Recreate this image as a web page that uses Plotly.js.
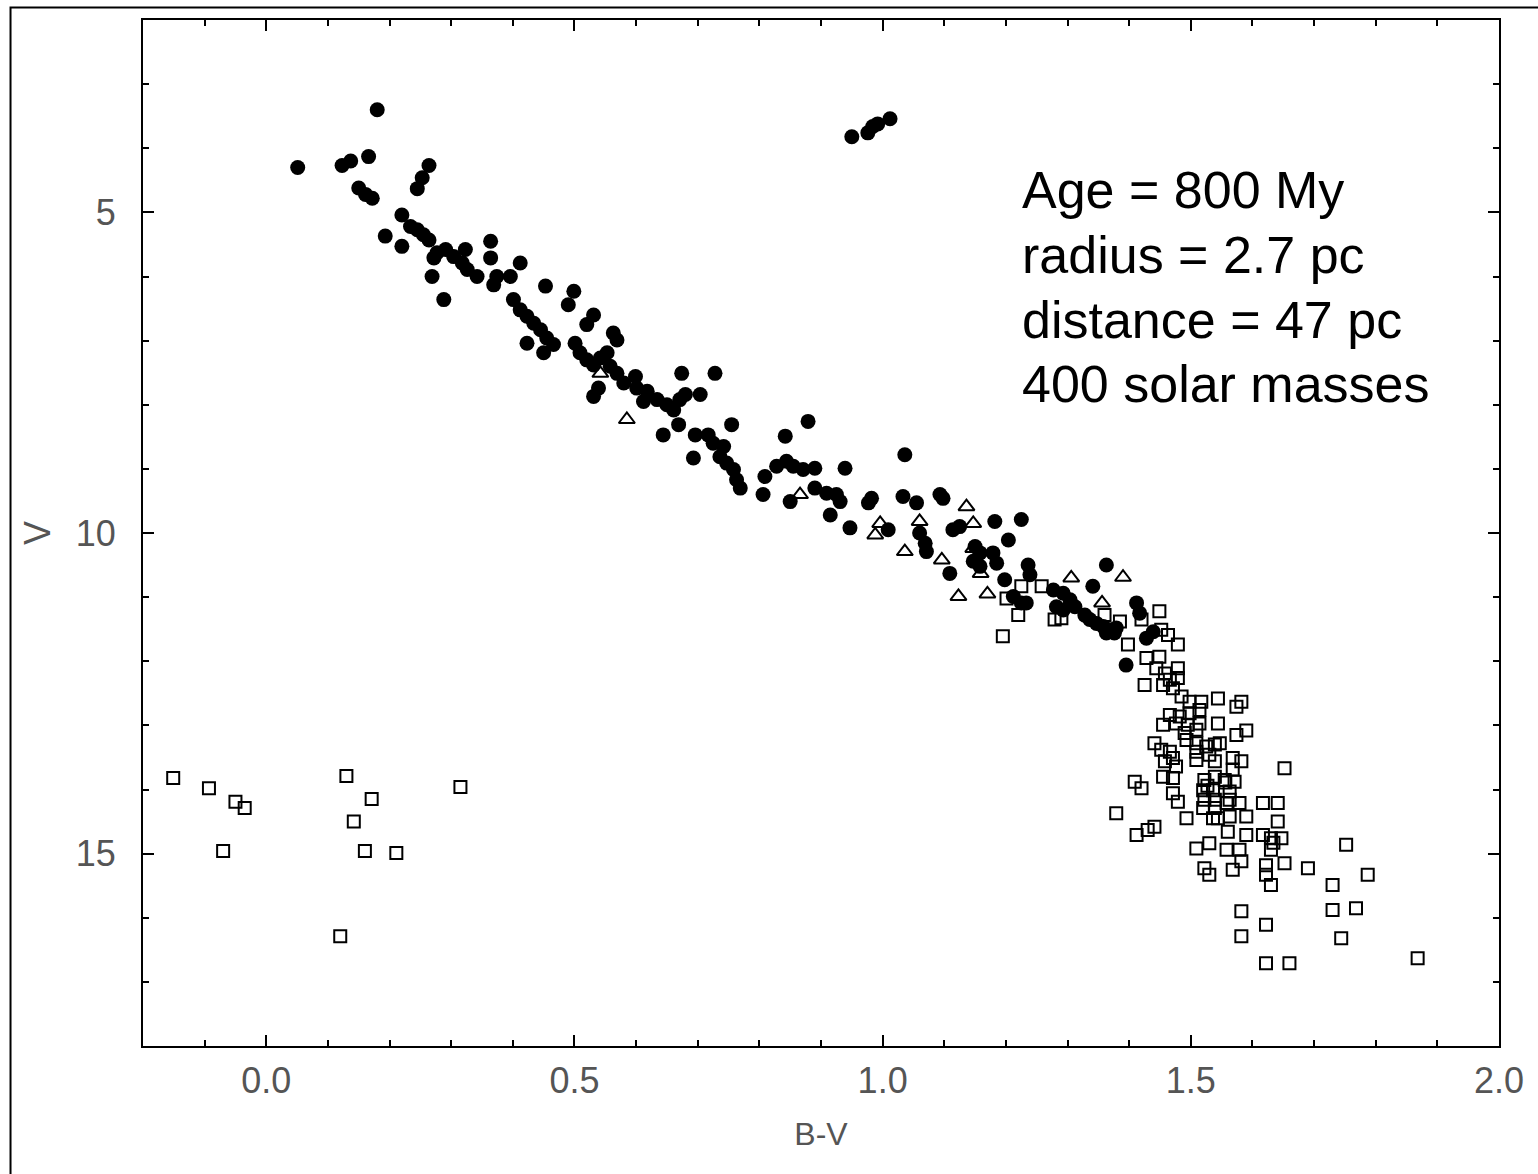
<!DOCTYPE html>
<html>
<head>
<meta charset="utf-8">
<script src="https://cdn.plot.ly/plotly-3.0.1.min.js"></script>
<style>
  html, body { margin: 0; padding: 0; background: #fff; }
  #chart { width: 1538px; height: 1174px; }
</style>
</head>
<body>
<div id="chart"></div>
<script>
// Filled circles (cluster members, bright main sequence + giants)
const circBV = [
  0.180, 0.051, 0.123, 0.137, 0.166, 0.264, 0.253, 0.245, 0.150, 0.161,
  0.172, 0.220, 0.193, 0.234, 0.245, 0.255, 0.264, 0.220, 0.277, 0.291,
  0.272, 0.269, 0.288, 0.304, 0.323, 0.318, 0.326, 0.342, 0.364, 0.364,
  0.374, 0.369, 0.396, 0.412, 0.453, 0.499, 0.401, 0.412, 0.423, 0.434,
  0.445, 0.455, 0.466, 0.423, 0.450,
  0.490, 0.531, 0.520, 0.563, 0.569, 0.501, 0.509, 0.520, 0.531, 0.542,
  0.553, 0.558, 0.569, 0.531, 0.539, 0.580, 0.599, 0.601, 0.618, 0.612,
  0.634, 0.650, 0.661, 0.671, 0.680, 0.704, 0.674, 0.728, 0.669, 0.644,
  0.696, 0.717, 0.725, 0.742, 0.755, 0.693, 0.736, 0.747, 0.758, 0.763,
  0.769,
  0.879, 0.842, 0.809, 0.828, 0.844, 0.855, 0.871, 0.890, 0.806, 0.850,
  0.890, 0.909, 0.925, 0.931, 0.915, 0.947, 0.939, 0.977, 0.982, 1.036,
  1.033, 1.055, 1.093, 1.098, 1.009, 1.060, 1.069, 1.071, 1.114, 1.125,
  1.109,
  1.182, 1.225, 1.204, 1.150, 1.158, 1.147, 1.158, 1.179, 1.185, 1.198,
  1.236, 1.239, 1.212, 1.225, 1.233, 1.277, 1.293, 1.304, 1.282, 1.293,
  1.312, 1.328, 1.363,
  1.341, 1.336, 1.347, 1.358, 1.368, 1.379, 1.363, 1.376, 1.412, 1.417,
  1.428, 1.439, 1.395,
  0.950, 0.976, 0.984, 0.992, 1.012
];
const circV = [
  3.40, 4.30, 4.27, 4.20, 4.13, 4.27, 4.46, 4.63, 4.62, 4.72,
  4.78, 5.04, 5.37, 5.22, 5.27, 5.35, 5.43, 5.53, 5.63, 5.58,
  5.71, 6.00, 6.36, 5.69, 5.58, 5.79, 5.89, 6.00, 5.45, 5.71,
  6.00, 6.13, 6.00, 5.79, 6.15, 6.23, 6.36, 6.52, 6.62, 6.73,
  6.83, 6.96, 7.06, 7.04, 7.19,
  6.44, 6.60, 6.75, 6.88, 6.99, 7.04, 7.19, 7.30, 7.38, 7.27,
  7.19, 7.40, 7.51, 7.87, 7.74, 7.66, 7.56, 7.74, 7.79, 7.95,
  7.92, 8.00, 8.08, 7.92, 7.84, 7.84, 7.51, 7.51, 8.31, 8.47,
  8.47, 8.47, 8.60, 8.65, 8.31, 8.83, 8.81, 8.91, 9.01, 9.17,
  9.30,
  8.26, 8.49, 9.12, 8.96, 8.88, 8.96, 9.01, 8.99, 9.40, 9.51,
  9.30, 9.38, 9.40, 9.51, 9.72, 9.92, 8.99, 9.53, 9.46, 8.78,
  9.43, 9.53, 9.40, 9.46, 9.95, 10.00, 10.16, 10.29, 9.95, 9.90,
  10.63,
  9.82, 9.79, 10.11, 10.21, 10.31, 10.44, 10.52, 10.31, 10.47, 10.73,
  10.50, 10.65, 10.99, 11.09, 11.09, 10.89, 10.94, 11.04, 11.15, 11.20,
  11.15, 11.28, 10.50,
  10.83, 11.35, 11.41, 11.46, 11.51, 11.48, 11.56, 11.56, 11.09, 11.25,
  11.64, 11.54, 12.06,
  3.82, 3.76, 3.66, 3.62, 3.54
];

// Open triangles
const triBV = [0.542, 0.585, 0.866, 0.988, 0.996, 1.036, 1.060, 1.096, 1.123,
  1.136, 1.147, 1.147, 1.159, 1.170, 1.306, 1.390, 1.356];
const triV = [7.51, 8.23, 9.40, 10.03, 9.85, 10.29, 9.82, 10.42, 10.99,
  9.59, 9.85, 10.24, 10.63, 10.95, 10.70, 10.69, 11.09];

// Open squares (faint stars, white dwarfs)
const sqBV = [
  -0.151, -0.093, -0.050, -0.035, -0.070, 0.130, 0.171, 0.142, 0.160, 0.211,
  0.315, 0.120,
  1.225, 1.258, 1.201, 1.220, 1.195, 1.279, 1.290,
  1.360, 1.385, 1.420, 1.449, 1.452, 1.463, 1.479, 1.398, 1.428, 1.449,
  1.425, 1.455, 1.479, 1.479, 1.471, 1.444, 1.458, 1.466, 1.485, 1.498,
  1.517, 1.466, 1.482, 1.498, 1.514, 1.455, 1.476, 1.495, 1.514, 1.490,
  1.509, 1.493, 1.544, 1.574, 1.582, 1.544, 1.574, 1.590, 1.441, 1.452,
  1.466, 1.509, 1.525, 1.539, 1.547, 1.509, 1.530, 1.458, 1.476, 1.471,
  1.509, 1.539, 1.568, 1.582, 1.652, 1.455, 1.471, 1.522, 1.539, 1.568,
  1.555, 1.571, 1.563, 1.409, 1.420, 1.471, 1.479, 1.520, 1.536, 1.522,
  1.539, 1.563, 1.579, 1.520, 1.539, 1.558, 1.617, 1.641, 1.379, 1.493,
  1.536, 1.544, 1.563, 1.590, 1.641,
  1.412, 1.430, 1.441, 1.509, 1.530, 1.558, 1.579, 1.582, 1.522, 1.530,
  1.568, 1.560, 1.590, 1.617, 1.630, 1.647, 1.630, 1.652, 1.622, 1.622,
  1.630, 1.690, 1.752, 1.787, 1.730, 1.730, 1.768, 1.744, 1.582, 1.582,
  1.622, 1.622, 1.660, 1.868,
  1.527, 1.634, 1.556
];
const sqV = [
  13.82, 13.98, 14.19, 14.29, 14.96, 13.79, 14.15, 14.50, 14.96, 14.99,
  13.96, 16.29,
  10.83, 10.83, 11.02, 11.28, 11.61, 11.35, 11.33,
  11.28, 11.38, 11.35, 11.22, 11.51, 11.59, 11.74, 11.74, 11.95, 11.93,
  12.37, 12.37, 12.11, 12.26, 12.42, 12.11, 12.19, 12.29, 12.55, 12.63,
  12.63, 12.84, 12.86, 12.81, 12.76, 12.99, 12.97, 12.99, 12.97, 13.12,
  13.07, 13.23, 12.58, 12.71, 12.63, 12.97, 13.15, 13.08, 13.28, 13.38,
  13.41, 13.28, 13.33, 13.30, 13.28, 13.41, 13.46, 13.56, 13.64, 13.51,
  13.54, 13.56, 13.51, 13.56, 13.67, 13.80, 13.82, 13.85, 13.80, 13.69,
  13.85, 13.88, 14.03, 13.88, 13.98, 14.06, 14.19, 14.01, 14.01, 14.16,
  14.16, 14.16, 14.21, 14.29, 14.29, 14.21, 14.21, 14.21, 14.37, 14.45,
  14.45, 14.45, 14.42, 14.42, 14.50,
  14.71, 14.63, 14.58, 14.92, 14.84, 14.94, 14.94, 15.12, 15.23, 15.33,
  15.25, 14.66, 14.71, 14.71, 14.76, 14.76, 14.94, 15.15, 15.18, 15.33,
  15.49, 15.23, 14.86, 15.33, 15.49, 15.88, 15.85, 16.32, 15.90, 16.29,
  16.11, 16.71, 16.71, 16.63,
  13.94, 14.83, 13.89
];

const xTickVals = [0, 0.5, 1.0, 1.5, 2.0];
const xTickText = ['0.0', '0.5', '1.0', '1.5', '2.0'];
const yTickVals = [5, 10, 15];
const yTickText = ['5', '10', '15'];
const infoLines = ['Age = 800 My', 'radius = 2.7 pc', 'distance = 47 pc', '400 solar masses'];

const FONT = 'Liberation Sans, Arial, Helvetica, sans-serif';
const GRAY = '#555555';

const traces = [
  { type: 'scatter', mode: 'markers', x: circBV, y: circV,
    marker: { symbol: 'circle', size: 15, color: '#000', line: { width: 0 } } },
  { type: 'scatter', mode: 'markers', x: triBV, y: triV,
    marker: { symbol: 'triangle-up-open', size: 14, color: '#000', line: { width: 2, color: '#000' } } },
  { type: 'scatter', mode: 'markers', x: sqBV, y: sqV,
    marker: { symbol: 'square-open', size: 12, color: '#000', line: { width: 2, color: '#000' } } }
];

const lineCenters = [0.834, 0.771, 0.708, 0.645];
const annotations = infoLines.map((t, i) => ({
  text: t, xref: 'paper', yref: 'paper', x: 0.647, y: lineCenters[i],
  xanchor: 'left', yanchor: 'middle', showarrow: false,
  font: { family: FONT, size: 52, color: '#000' }
}));

const axisCommon = {
  showgrid: false, zeroline: false, showline: true, linecolor: '#000', linewidth: 2,
  mirror: 'ticks', ticks: 'inside', ticklen: 11, tickwidth: 2, tickcolor: '#000',
  tickfont: { family: FONT, size: 36, color: GRAY }
};

const layout = {
  width: 1538, height: 1174,
  margin: { l: 143, r: 39, t: 20, b: 128 },
  paper_bgcolor: '#fff', plot_bgcolor: '#fff',
  showlegend: false,
  xaxis: Object.assign({}, axisCommon, {
    range: [-0.2, 2.0], tickmode: 'array', tickvals: xTickVals, ticktext: xTickText,
    minor: { dtick: 0.1, tick0: 0, ticks: 'inside', ticklen: 6, tickwidth: 2, tickcolor: '#000' },
    ticklabelstandoff: 2,
    title: { text: 'B-V', font: { family: FONT, size: 32, color: GRAY }, standoff: 22 }
  }),
  yaxis: Object.assign({}, axisCommon, {
    range: [18, 2], tickmode: 'array', tickvals: yTickVals, ticktext: yTickText,
    minor: { dtick: 1, tick0: 0, ticks: 'inside', ticklen: 6, tickwidth: 2, tickcolor: '#000' },
    ticklabelstandoff: 18,
    title: { text: 'V', font: { family: FONT, size: 36, color: GRAY }, standoff: 14 }
  }),
  annotations: annotations,
  shapes: [{
    type: 'rect', xref: 'paper', yref: 'paper',
    x0: -0.0977, x1: 1.034, y0: -0.131, y1: 1.0122,
    line: { color: '#000', width: 2 }, fillcolor: 'rgba(0,0,0,0)', layer: 'above'
  }]
};

Plotly.newPlot('chart', traces, layout, { staticPlot: true, displayModeBar: false });
</script>
</body>
</html>
